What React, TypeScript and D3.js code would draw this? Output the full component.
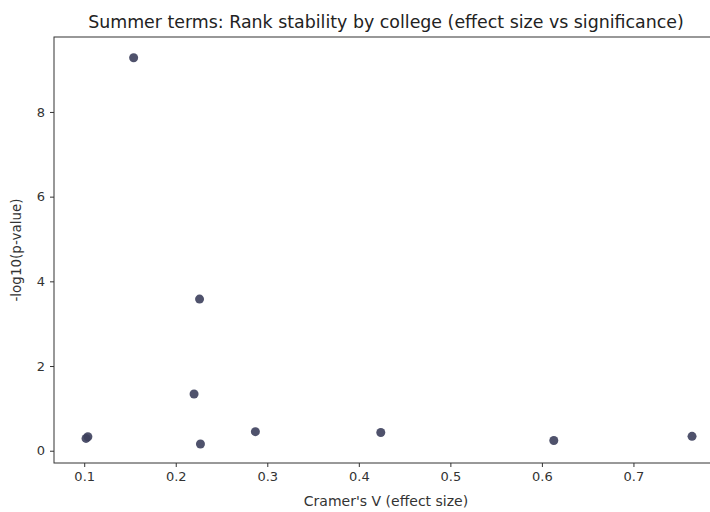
import * as d3 from "d3";
import { useEffect, useRef } from "react";

// effect size (Cramer's V) and -log10(p) per college
const cramersV = [0.102, 0.104, 0.154, 0.226, 0.220, 0.227, 0.287, 0.424, 0.613, 0.764];
const negLogP = [0.29, 0.33, 9.28, 3.58, 1.34, 0.16, 0.45, 0.43, 0.24, 0.34];
const xTicks = [0.1, 0.2, 0.3, 0.4, 0.5, 0.6, 0.7];
const yTicks = [0, 2, 4, 6, 8];

const App = () => {
    const svgRef = useRef<SVGSVGElement | null>(null);

    const width = 710;
    const height = 512;
    const margin = { top: 37, bottom: 49, left: 54, right: -4 };
    const boundsWidth = width - margin.left - margin.right;
    const boundsHeight = height - margin.top - margin.bottom;

    useEffect(() => {
        const svg = d3.select(svgRef.current);
        svg.selectAll("*").remove();

        const font = "DejaVu Sans, sans-serif";
        const ink = "#333";

        const scaleX = d3.scaleLinear().domain([0.067, 0.788]).range([0, boundsWidth]);
        const scaleY = d3.scaleLinear().domain([-0.29, 9.77]).range([boundsHeight, 0]);

        const g = svg.append("g").attr("transform", `translate(${margin.left},${margin.top})`);

        // рамка
        g.append("rect")
            .attr("width", boundsWidth)
            .attr("height", boundsHeight)
            .attr("fill", "white")
            .attr("stroke", ink)
            .attr("stroke-width", 1);

        const xAxis = g.append("g")
            .attr("transform", `translate(0,${boundsHeight})`)
            .call(d3.axisBottom(scaleX).tickValues(xTicks).tickFormat(d3.format(".1f")).tickSize(4).tickPadding(5));
        const yAxis = g.append("g")
            .call(d3.axisLeft(scaleY).tickValues(yTicks).tickFormat(d3.format("d")).tickSize(4).tickPadding(5));

        [xAxis, yAxis].forEach(ax => {
            ax.select(".domain").remove();
            ax.selectAll("line").attr("stroke", ink);
            ax.selectAll("text").attr("fill", ink).style("font-family", font).style("font-size", "13px");
        });

        // точки
        g.selectAll(".dot")
            .data(cramersV.map((v, i) => ({ v, p: negLogP[i] })))
            .enter()
            .append("circle")
            .attr("class", "dot")
            .attr("cx", d => scaleX(d.v))
            .attr("cy", d => scaleY(d.p))
            .attr("r", 4.5)
            .attr("fill", "#3c3f5c")
            .attr("fill-opacity", 0.9);

        const cx = 386;

        svg.append("text")
            .attr("x", cx)
            .attr("y", 28)
            .attr("text-anchor", "middle")
            .style("font-family", font)
            .style("font-size", "17.4px")
            .attr("fill", "#222")
            .text("Summer terms: Rank stability by college (effect size vs significance)");

        svg.append("text")
            .attr("x", cx)
            .attr("y", 506)
            .attr("text-anchor", "middle")
            .style("font-family", font)
            .style("font-size", "14px")
            .attr("fill", ink)
            .text("Cramer's V (effect size)");

        svg.append("text")
            .attr("transform", `translate(21,${margin.top + boundsHeight / 2}) rotate(-90)`)
            .attr("text-anchor", "middle")
            .style("font-family", font)
            .style("font-size", "13.5px")
            .attr("fill", ink)
            .text("-log10(p-value)");
    }, []);

    return (
        <div>
            <style>{`body{margin:0}`}</style>
            <svg ref={svgRef} width={width} height={height} style={{ display: "block", background: "white" }}></svg>
        </div>
    );
};

export default App;
